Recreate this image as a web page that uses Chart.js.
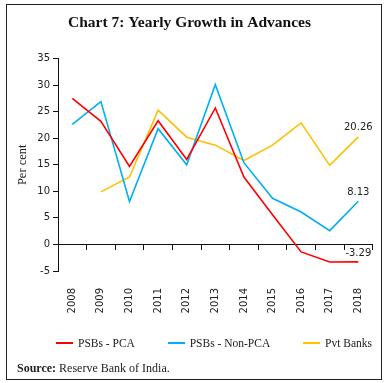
<!DOCTYPE html>
<html>
<head>
<meta charset="utf-8">
<script src="https://cdn.jsdelivr.net/npm/chart.js@4.4.1/dist/chart.umd.min.js"></script>
<style>
  html, body { margin: 0; padding: 0; background: #fff; }
  #wrap { position: relative; width: 388px; height: 383px; }
  #frame { position: absolute; left: 6px; top: 4px; width: 376px; height: 376px; border: 1px solid #222; box-sizing: border-box; pointer-events: none; }
  #legend { position: absolute; left: 56px; width: 316px; top: 337px; display: flex; justify-content: space-between; font: 11.5px "Liberation Serif", serif; color: #222; }
  .item { display: flex; align-items: center; }
  .swatch { width: 17px; height: 2.5px; margin-right: 5px; }
  #src { position: absolute; left: 17px; top: 361px; font: 12px "Liberation Serif", serif; color: #222; }
</style>
</head>
<body>
<div id="wrap">
  <canvas id="chart" width="388" height="383"></canvas>
  <div id="legend"></div>
  <div id="src"><b>Source:</b> Reserve Bank of India.</div>
  <div id="frame"></div>
</div>
<script>
const years = ['2008', '2009', '2010', '2011', '2012', '2013', '2014', '2015', '2016', '2017', '2018'];
const psbPca = [27.5, 23.2, 14.7, 23.3, 16.0, 25.7, 12.7, 5.6, -1.4, -3.3, -3.29];
const psbNonPca = [22.6, 26.9, 8.1, 21.8, 15.0, 30.1, 15.4, 8.7, 6.1, 2.6, 8.13];
const pvtBanks = [null, 9.9, 12.7, 25.3, 20.2, 18.7, 15.8, 18.7, 22.9, 14.9, 20.26];
const lastLabels = ['-3.29', '8.13', '20.26'];

const yMin = -5, yMax = 35, yStep = 5;
const tickFont = { family: 'DejaVu Sans', size: 10 };

// write the value of the last point above it
const endLabels = {
    id: 'endLabels',
    afterDatasetsDraw(chart) {
        const ctx = chart.ctx;
        ctx.save();
        ctx.font = '10px "DejaVu Sans"';
        ctx.fillStyle = '#222';
        ctx.textAlign = 'center';
        ctx.textBaseline = 'middle';
        chart.data.datasets.forEach((ds, i) => {
            const pts = chart.getDatasetMeta(i).data;
            const p = pts[pts.length - 1];
            ctx.fillText(lastLabels[i], p.x, p.y - 9);
        });
        ctx.restore();
    }
};

const ctx = document.getElementById('chart').getContext('2d');
const chart = new Chart(ctx, {
    type: 'line',
    data: {
        labels: years,
        datasets: [
            { label: 'PSBs - PCA', data: psbPca, borderColor: '#FF0000', backgroundColor: '#FF0000' },
            { label: 'PSBs - Non-PCA', data: psbNonPca, borderColor: '#00B0F0', backgroundColor: '#00B0F0' },
            { label: 'Pvt Banks', data: pvtBanks, borderColor: '#FFC000', backgroundColor: '#FFC000' }
        ]
    },
    options: {
        responsive: false,
        animation: false,
        layout: { padding: { left: 6, right: 15, top: 0, bottom: 63 } },
        elements: {
            line: { borderWidth: 1.6, tension: 0 },
            point: { radius: 0 }
        },
        plugins: {
            legend: { display: false },
            tooltip: { enabled: false },
            title: {
                display: true,
                text: 'Chart 7: Yearly Growth in Advances',
                color: '#111',
                font: { family: 'Liberation Serif', size: 15.5, weight: 'bold' },
                padding: { top: 14, bottom: 26 }
            }
        },
        scales: {
            x: {
                offset: true,
                grid: { display: false, drawTicks: false },
                border: { display: false },
                ticks: { font: tickFont, color: '#222', minRotation: 90, maxRotation: 90, padding: 17 },
                afterFit: s => { s.height = 49; }
            },
            x2: {
                type: 'category',
                position: { y: 0 },
                offset: true,
                grid: { offset: true, drawOnChartArea: false, drawTicks: true, tickLength: 5, color: '#111' },
                border: { display: true, color: '#111', width: 1 },
                ticks: { display: false }
            },
            y: {
                min: yMin,
                max: yMax,
                ticks: { stepSize: yStep, font: tickFont, color: '#222', padding: 3 },
                grid: { drawOnChartArea: false, drawTicks: true, tickLength: 5, color: '#111' },
                border: { display: true, color: '#111', width: 1 },
                title: {
                    display: true,
                    text: 'Per cent',
                    color: '#222',
                    font: { family: 'Liberation Serif', size: 12.5 },
                    padding: { top: 9, bottom: 0 }
                },
                afterFit: s => { s.width = 52; }
            }
        }
    },
    plugins: [endLabels]
});

// html legend built from the datasets
const legend = document.getElementById('legend');
chart.data.datasets.forEach(ds => {
    const item = document.createElement('div');
    item.className = 'item';
    const sw = document.createElement('span');
    sw.className = 'swatch';
    sw.style.background = ds.borderColor;
    const txt = document.createElement('span');
    txt.textContent = ds.label;
    item.appendChild(sw);
    item.appendChild(txt);
    legend.appendChild(item);
});
</script>
</body>
</html>
